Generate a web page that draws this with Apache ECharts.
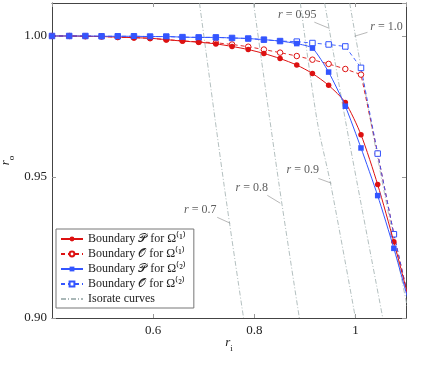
<!DOCTYPE html>
<html>
<head>
<meta charset="utf-8">
<script src="https://cdn.jsdelivr.net/npm/echarts@6/dist/echarts.min.js"></script>
<style>
html,body{margin:0;padding:0;background:#fff;}
#chart{width:428px;height:372px;}
</style>
</head>
<body>
<div id="chart"></div>
<script>
// r_i sample points shared by the four boundary series
var ri = [0.400, 0.434, 0.466, 0.498, 0.530, 0.562, 0.594, 0.626, 0.658, 0.690, 0.724,
          0.756, 0.788, 0.819, 0.851, 0.884, 0.915, 0.947, 0.980, 1.011, 1.044, 1.076, 1.108];
// r_o values
var pOmega1 = [1.0000, 1.0000, 0.9999, 0.9998, 0.9996, 0.9994, 0.9992, 0.9987, 0.9982, 0.9978, 0.9972,
               0.9963, 0.9952, 0.9938, 0.9920, 0.9897, 0.9867, 0.9825, 0.9764, 0.9650, 0.9473, 0.9270, 0.9050];
var oOmega1 = [1.0000, 1.0000, 0.9999, 0.9998, 0.9996, 0.9994, 0.9992, 0.9987, 0.9983, 0.9979, 0.9976,
               0.9970, 0.9962, 0.9952, 0.9941, 0.9929, 0.9916, 0.9901, 0.9883, 0.9863, 0.9583, 0.9297, 0.9045];
var pOmega2 = [1.0000, 1.0000, 1.0000, 0.9999, 0.9999, 0.9999, 0.9998, 0.9998, 0.9996, 0.9995, 0.9995,
               0.9993, 0.9991, 0.9987, 0.9982, 0.9973, 0.9957, 0.9872, 0.9751, 0.9603, 0.9434, 0.9247, 0.9040];
var oOmega2 = [1.0000, 1.0000, 1.0000, 0.9999, 0.9999, 0.9999, 0.9998, 0.9998, 0.9996, 0.9995, 0.9995,
               0.9993, 0.9991, 0.9987, 0.9982, 0.9980, 0.9975, 0.9970, 0.9963, 0.9887, 0.9583, 0.9297, 0.9045];

// isorate curves, [r_i, r_o] points
var isoNames = ['r = 0.7', 'r = 0.8', 'r = 0.9', 'r = 0.95', 'r = 1.0'];
var isoCurves = [
    [[0.6917, 1.0116], [0.7406, 0.9467], [0.7788, 0.9000]],
    [[0.7986, 1.0116], [0.8495, 0.9467], [0.8891, 0.9000]],
    [[0.8911, 1.0116], [0.9241, 0.9701], [0.9519, 0.9467], [1.0000, 0.9000]],
    [[0.9392, 1.0116], [0.9802, 0.9701], [1.0046, 0.9467], [1.0541, 0.9000]],
    [[0.9887, 1.0116], [1.0297, 0.9701], [1.0547, 0.9467], [1.1070, 0.9000]]
];
// label anchors and pin lines for the isorate curves
var isoLabelAt = [[0.6931, 0.9382], [0.7950, 0.9463], [0.8960, 0.9524], [0.8851, 1.0075], [1.0614, 1.0034]];
var isoPins = [
    [[0.7267, 0.9357], [0.7525, 0.9336]],
    [[0.8257, 0.9435], [0.8515, 0.9407]],
    [[0.9267, 0.9495], [0.9525, 0.9478]],
    [[0.9188, 1.0049], [0.9485, 1.0027]],
    [[1.0238, 1.0013], [0.9980, 0.9999]]
];

var FONT = 'Liberation Serif';
var RED = '#dd1111', BLUE = '#3355ff', ISO = '#aab8b8';

function pairs(ys) {
    var out = [];
    for (var i = 0; i < ys.length; i++) out.push([ri[i], ys[i]]);
    return out;
}

var series = [];
for (var k = 0; k < isoCurves.length; k++) {
    series.push({
        name: 'Isorate curves', type: 'line', data: isoCurves[k],
        showSymbol: false, symbol: 'circle', smooth: 0.3,
        lineStyle: {color: ISO, width: 0.9, type: [5, 2, 1, 2]},
        itemStyle: {color: ISO}, silent: true, z: 1
    });
    series.push({
        type: 'line', data: isoPins[k], showSymbol: false,
        lineStyle: {color: '#888', width: 0.6}, silent: true, z: 1
    });
}
series.push({
    type: 'scatter', symbolSize: 0, silent: true, z: 3,
    data: isoLabelAt.map(function(p, i) { return {value: p, name: isoNames[i]}; }),
    label: {
        show: true, position: 'inside', color: '#333',
        fontFamily: FONT, fontSize: 12,
        formatter: function(p) { return '{i|r}' + p.name.slice(1); },
        rich: {i: {fontStyle: 'italic', fontFamily: FONT, fontSize: 12, color: '#333'}}
    }
});
// open markers first, filled ones drawn over them
series.push({
    name: 'Boundary 𝒪 for Ω⁽¹⁾', type: 'line', data: pairs(oOmega1),
    symbol: 'circle', symbolSize: 5.5,
    lineStyle: {color: RED, width: 0.9, type: [4, 3]},
    itemStyle: {color: '#fff', borderColor: RED, borderWidth: 1}, z: 4
});
series.push({
    name: 'Boundary 𝒪 for Ω⁽²⁾', type: 'line', data: pairs(oOmega2),
    symbol: 'rect', symbolSize: 5.5,
    lineStyle: {color: BLUE, width: 0.9, type: [4, 3]},
    itemStyle: {color: '#fff', borderColor: BLUE, borderWidth: 1}, z: 4
});
series.push({
    name: 'Boundary 𝒫 for Ω⁽¹⁾', type: 'line', data: pairs(pOmega1), smooth: 0.25,
    symbol: 'circle', symbolSize: 5.5,
    lineStyle: {color: RED, width: 1}, itemStyle: {color: RED}, z: 5
});
series.push({
    name: 'Boundary 𝒫 for Ω⁽²⁾', type: 'line', data: pairs(pOmega2), smooth: 0.2,
    symbol: 'rect', symbolSize: 5.5,
    lineStyle: {color: BLUE, width: 1}, itemStyle: {color: BLUE}, z: 6
});

var tickStyle = {show: true, inside: true, length: 4, lineStyle: {color: '#999', width: 1}};
var frameLine = {show: true, onZero: false, lineStyle: {color: '#444', width: 1}};

var chart = echarts.init(document.getElementById('chart'));
chart.setOption({
    animation: false,
    grid: {left: 52, right: 22, top: 3, bottom: 54, containLabel: false, outerBoundsMode: 'none'},
    legend: {
        orient: 'vertical', left: 56, top: 229,
        backgroundColor: '#fff', borderColor: '#777', borderWidth: 1, borderRadius: 0,
        padding: [4, 8, 3, 4], itemGap: 3, itemWidth: 22, itemHeight: 6,
        textStyle: {fontFamily: FONT, fontSize: 12, color: '#222'},
        data: ['Boundary 𝒫 for Ω⁽¹⁾', 'Boundary 𝒪 for Ω⁽¹⁾', 'Boundary 𝒫 for Ω⁽²⁾', 'Boundary 𝒪 for Ω⁽²⁾',
               {name: 'Isorate curves', itemStyle: {opacity: 0}}]
    },
    xAxis: [{
        type: 'value', min: 0.4, max: 1.1, interval: 0.2, position: 'bottom',
        name: '{i|r}{s|i}', nameLocation: 'middle', nameGap: 18, nameMoveOverlap: false,
        nameTextStyle: {rich: {
            i: {fontStyle: 'italic', fontFamily: FONT, fontSize: 13, color: '#222', padding: [0, 0, 4, 0], verticalAlign: 'bottom'},
            s: {fontFamily: FONT, fontSize: 9, color: '#222', verticalAlign: 'bottom'}
        }},
        axisLine: frameLine, axisTick: tickStyle, splitLine: {show: false},
        axisLabel: {
            margin: 6, fontFamily: FONT, fontSize: 13, color: '#222',
            showMinLabel: false, showMaxLabel: false,
            formatter: function(v) { return String(Math.round(v * 10) / 10); }
        }
    }, {
        type: 'value', min: 0.4, max: 1.1, interval: 0.2, position: 'top',
        axisLine: frameLine, axisTick: tickStyle, splitLine: {show: false}, axisLabel: {show: false}
    }],
    yAxis: [{
        type: 'value', min: 0.9, max: 1.0117, interval: 0.05, position: 'left',
        name: '{i|r}{s|o}', nameLocation: 'middle', nameGap: 36, nameRotate: 90, nameMoveOverlap: false,
        nameTextStyle: {rich: {
            i: {fontStyle: 'italic', fontFamily: FONT, fontSize: 13, color: '#222', padding: [0, 0, 4, 0], verticalAlign: 'bottom'},
            s: {fontFamily: FONT, fontSize: 9, color: '#222', verticalAlign: 'bottom'}
        }},
        axisLine: frameLine, axisTick: tickStyle, splitLine: {show: false},
        axisLabel: {
            margin: 5, fontFamily: FONT, fontSize: 13, color: '#222',
            showMaxLabel: false,
            formatter: function(v) { return v.toFixed(2); }
        }
    }, {
        type: 'value', min: 0.9, max: 1.0117, interval: 0.05, position: 'right',
        axisLine: frameLine, axisTick: tickStyle, splitLine: {show: false}, axisLabel: {show: false}
    }],
    series: series
});
</script>
</body>
</html>
